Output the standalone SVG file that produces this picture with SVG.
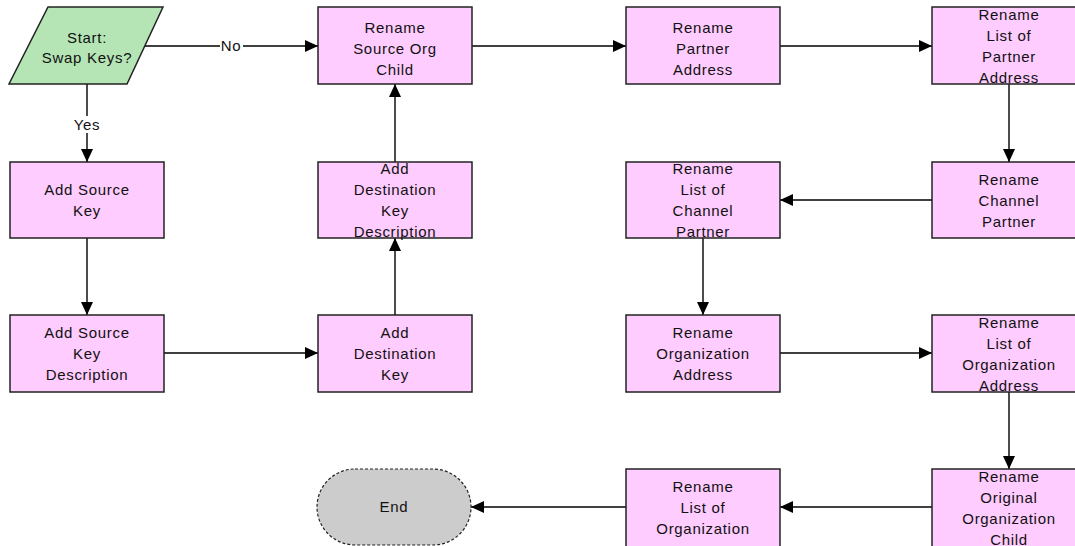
<svg xmlns="http://www.w3.org/2000/svg" width="1075" height="546" viewBox="0 0 1075 546">
<style>
.box{fill:#ffccff;stroke:#222;stroke-width:1.5}
.start{fill:#b5e5b5;stroke:#222;stroke-width:1.5}
.end{fill:#cccccc;stroke:#222;stroke-width:1.2;stroke-dasharray:3,2}
text{font-family:"Liberation Sans",Arial,sans-serif;font-size:15px;letter-spacing:0.7px;fill:#111;text-anchor:middle}
.conn{stroke:#000;stroke-width:1.4;fill:none;marker-end:url(#arr)}
.lbl{fill:#fff}
</style>
<defs>
<marker id="arr" markerWidth="13" markerHeight="12" refX="13" refY="6" orient="auto" markerUnits="userSpaceOnUse">
<path d="M0,0 L13,6 L0,12 Z" fill="#000"/>
</marker>
</defs>
<rect width="1075" height="546" fill="#fff"/>
<g id="connectors">
<line class="conn" x1="145" y1="46" x2="318" y2="46"/>
<rect class="lbl" x="220" y="38" width="23" height="16"/>
<text x="231" y="51">No</text>
<line class="conn" x1="87" y1="84" x2="87" y2="162"/>
<rect class="lbl" x="71" y="116" width="32" height="17"/>
<text x="87" y="130">Yes</text>
<line class="conn" x1="87" y1="238" x2="87" y2="315"/>
<line class="conn" x1="164" y1="353" x2="318" y2="353"/>
<line class="conn" x1="395" y1="315" x2="395" y2="238"/>
<line class="conn" x1="395" y1="162" x2="395" y2="84"/>
<line class="conn" x1="472" y1="46" x2="626" y2="46"/>
<line class="conn" x1="780" y1="46" x2="932" y2="46"/>
<line class="conn" x1="1009" y1="84" x2="1009" y2="162"/>
<line class="conn" x1="932" y1="200" x2="780" y2="200"/>
<line class="conn" x1="703" y1="238" x2="703" y2="315"/>
<line class="conn" x1="780" y1="353" x2="932" y2="353"/>
<line class="conn" x1="1009" y1="392" x2="1009" y2="469"/>
<line class="conn" x1="932" y1="507" x2="780" y2="507"/>
<line class="conn" x1="626" y1="507" x2="471" y2="507"/>
</g>
<g id="start">
<polygon class="start" points="48,7 163,7 127,84 9,84"/>
<text x="87" y="43">Start:</text>
<text x="87" y="63">Swap Keys?</text>
</g>
<g id="add-source-key">
<rect class="box" x="10" y="162" width="154" height="76"/>
<text x="87" y="195">Add Source</text>
<text x="87" y="216">Key</text>
</g>
<g id="add-source-key-desc">
<rect class="box" x="10" y="315" width="154" height="77"/>
<text x="87" y="338">Add Source</text>
<text x="87" y="359">Key</text>
<text x="87" y="380">Description</text>
</g>
<g id="add-destination-key">
<rect class="box" x="318" y="315" width="154" height="77"/>
<text x="395" y="338">Add</text>
<text x="395" y="359">Destination</text>
<text x="395" y="380">Key</text>
</g>
<g id="add-destination-key-desc">
<rect class="box" x="318" y="162" width="154" height="76"/>
<text x="395" y="174">Add</text>
<text x="395" y="195">Destination</text>
<text x="395" y="216">Key</text>
<text x="395" y="237">Description</text>
</g>
<g id="rename-source-org-child">
<rect class="box" x="318" y="7" width="154" height="77"/>
<text x="395" y="33">Rename</text>
<text x="395" y="54">Source Org</text>
<text x="395" y="75">Child</text>
</g>
<g id="rename-partner-address">
<rect class="box" x="626" y="7" width="154" height="77"/>
<text x="703" y="33">Rename</text>
<text x="703" y="54">Partner</text>
<text x="703" y="75">Address</text>
</g>
<g id="rename-list-partner-address">
<rect class="box" x="932" y="7" width="156" height="77"/>
<text x="1009" y="20">Rename</text>
<text x="1009" y="41">List of</text>
<text x="1009" y="62">Partner</text>
<text x="1009" y="83">Address</text>
</g>
<g id="rename-channel-partner">
<rect class="box" x="932" y="162" width="156" height="76"/>
<text x="1009" y="185">Rename</text>
<text x="1009" y="206">Channel</text>
<text x="1009" y="227">Partner</text>
</g>
<g id="rename-list-channel-partner">
<rect class="box" x="626" y="162" width="154" height="76"/>
<text x="703" y="174">Rename</text>
<text x="703" y="195">List of</text>
<text x="703" y="216">Channel</text>
<text x="703" y="237">Partner</text>
</g>
<g id="rename-organization-address">
<rect class="box" x="626" y="315" width="154" height="77"/>
<text x="703" y="338">Rename</text>
<text x="703" y="359">Organization</text>
<text x="703" y="380">Address</text>
</g>
<g id="rename-list-organization-address">
<rect class="box" x="932" y="315" width="156" height="77"/>
<text x="1009" y="328">Rename</text>
<text x="1009" y="349">List of</text>
<text x="1009" y="370">Organization</text>
<text x="1009" y="391">Address</text>
</g>
<g id="rename-original-organization-child">
<rect class="box" x="932" y="469" width="156" height="80"/>
<text x="1009" y="482">Rename</text>
<text x="1009" y="503">Original</text>
<text x="1009" y="524">Organization</text>
<text x="1009" y="545">Child</text>
</g>
<g id="rename-list-organization">
<rect class="box" x="626" y="469" width="154" height="80"/>
<text x="703" y="492">Rename</text>
<text x="703" y="513">List of</text>
<text x="703" y="534">Organization</text>
</g>
<g id="end">
<rect class="end" x="317" y="469" width="154" height="76" rx="38" ry="38"/>
<text x="394" y="512">End</text>
</g>
</svg>
